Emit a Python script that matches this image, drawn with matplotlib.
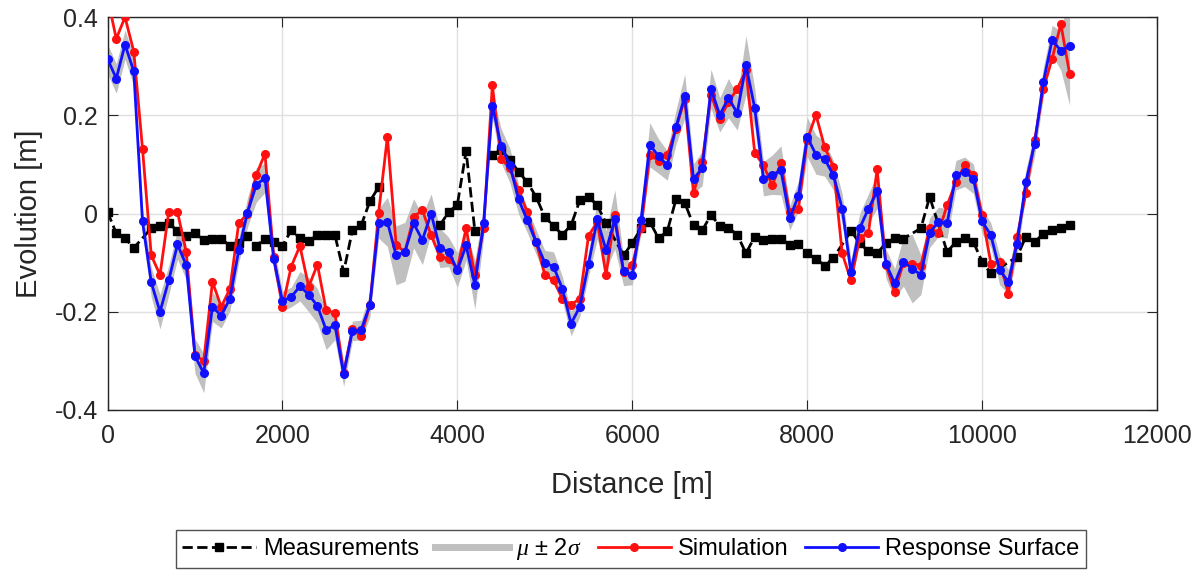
import matplotlib
matplotlib.use("Agg")
import matplotlib.pyplot as plt
from matplotlib.lines import Line2D
import numpy as np

plt.rcParams['font.family'] = ['Liberation Sans', 'DejaVu Sans']
plt.rcParams['mathtext.fontset'] = 'custom'
plt.rcParams['mathtext.it'] = 'Liberation Serif:italic'
plt.rcParams['mathtext.rm'] = 'Liberation Sans'

# distance of the simulation / response-surface points (every 100 m)
dist = np.arange(0, 11001, 100)

# response surface (blue)
rs = [0.315, 0.275, 0.344, 0.29, -0.016, -0.14, -0.20, -0.136, -0.063, -0.105,
      -0.29, -0.325, -0.19, -0.208, -0.173, -0.075, 0.002, 0.058, 0.073, -0.092,
      -0.178, -0.17, -0.148, -0.165, -0.188, -0.237, -0.227, -0.327, -0.239, -0.237,
      -0.186, -0.02, -0.017, -0.085, -0.078, -0.02, -0.054, 0.0, -0.07, -0.078,
      -0.115, -0.065, -0.145, -0.02, 0.22, 0.138, 0.098, 0.029, -0.014, -0.058,
      -0.1, -0.108, -0.153, -0.224, -0.19, -0.102, -0.012, -0.075, -0.012, -0.117,
      -0.125, -0.013, 0.14, 0.117, 0.098, 0.176, 0.239, 0.071, 0.092, 0.254,
      0.201, 0.235, 0.205, 0.302, 0.215, 0.071, 0.079, 0.088, -0.009, 0.036,
      0.156, 0.12, 0.111, 0.078, 0.01, -0.119, -0.03, 0.01, 0.045, -0.102,
      -0.142, -0.098, -0.112, -0.125, -0.039, -0.017, -0.02, 0.078, 0.085, 0.071,
      -0.016, -0.044, -0.115, -0.139, -0.061, 0.064, 0.142, 0.268, 0.353, 0.332,
      0.341]

# simulation (red)
sim = [0.44, 0.356, 0.40, 0.33, 0.132, -0.085, -0.125, 0.003, 0.003, -0.078,
       -0.288, -0.30, -0.139, -0.19, -0.153, -0.02, 0.0, 0.078, 0.122, -0.088,
       -0.19, -0.108, -0.066, -0.149, -0.104, -0.197, -0.203, -0.325, -0.235, -0.25,
       -0.186, 0.002, 0.156, -0.064, -0.078, -0.007, 0.007, -0.044, -0.088, -0.092,
       -0.112, -0.03, -0.125, -0.03, 0.261, 0.112, 0.092, 0.047, 0.003, -0.058,
       -0.125, -0.136, -0.173, -0.186, -0.173, -0.045, -0.017, -0.125, -0.003, -0.119,
       -0.105, -0.03, 0.119, 0.108, 0.119, 0.173, 0.234, 0.041, 0.106, 0.242,
       0.193, 0.227, 0.254, 0.292, 0.124, 0.098, 0.058, 0.102, 0.003, 0.01,
       0.15, 0.201, 0.135, 0.095, -0.081, -0.136, -0.05, -0.039, 0.09, -0.105,
       -0.159, -0.1, -0.102, -0.106, -0.03, -0.039, 0.017, 0.064, 0.098, 0.078,
       -0.003, -0.102, -0.098, -0.163, -0.047, 0.041, 0.149, 0.254, 0.315, 0.386,
       0.285]

# two sigma (half width of the grey band)
two_sigma = [0.03, 0.03, 0.03, 0.03, 0.025, 0.03, 0.035, 0.03, 0.03, 0.03,
             0.035, 0.04, 0.03, 0.025, 0.025, 0.025, 0.03, 0.035, 0.03, 0.025,
             0.02, 0.02, 0.03, 0.035, 0.035, 0.04, 0.03, 0.025, 0.02, 0.02,
             0.025, 0.03, 0.05, 0.06, 0.06, 0.05, 0.05, 0.04, 0.04, 0.03,
             0.035, 0.03, 0.05, 0.03, 0.025, 0.035, 0.035, 0.03, 0.025, 0.025,
             0.025, 0.03, 0.025, 0.025, 0.02, 0.025, 0.04, 0.04, 0.06, 0.03,
             0.02, 0.025, 0.045, 0.035, 0.03, 0.035, 0.045, 0.03, 0.035, 0.04,
             0.035, 0.04, 0.035, 0.06, 0.04, 0.035, 0.04, 0.05, 0.025, 0.03,
             0.04, 0.04, 0.035, 0.03, 0.03, 0.025, 0.03, 0.03, 0.035, 0.03,
             0.03, 0.05, 0.07, 0.04, 0.03, 0.03, 0.03, 0.03, 0.03, 0.03,
             0.025, 0.025, 0.03, 0.025, 0.025, 0.025, 0.025, 0.03, 0.03, 0.04,
             0.12]

# measurements (black); nan = no data between the neighbouring points
nan = float('nan')
meas_x = [0, 100, 200, 300, 500, 600, 700, 800, 900, 1000,
          1100, 1200, 1300, 1400, 1500, 1600, 1700, 1800, 1900, 2000,
          2100, 2200, 2300, 2400, 2500, 2600, 2700, 2800, 2900, 3000,
          3100, 3450, 3800, 3900, 4000, 4100, 4200, 4300, 4400, 4500, 4600, 4700,
          4800, 4900, 5000, 5100, 5200, 5300, 5400, 5500, 5600, 5700,
          5900, 6000, 6100, 6200, 6300, 6400, 6500, 6600, 6700, 6800,
          6900, 7000, 7100, 7200, 7300, 7400, 7500, 7600, 7700, 7800,
          7900, 8000, 8100, 8200, 8300, 8500, 8600, 8700, 8800, 8900,
          9000, 9100, 9300, 9400, 9600, 9700, 9800, 9900, 10000, 10100,
          10400, 10500, 10600, 10700, 10800, 10900, 11000]
meas_y = [0.003, -0.04, -0.05, -0.07, -0.03, -0.025, -0.02, -0.035, -0.045, -0.04,
          -0.054, -0.051, -0.051, -0.066, -0.06, -0.045, -0.066, -0.051, -0.058, -0.066,
          -0.034, -0.05, -0.056, -0.044, -0.044, -0.044, -0.119, -0.034, -0.024, 0.025,
          0.054, nan, -0.024, 0.003, 0.018, 0.127, -0.035, nan, 0.12, 0.13, 0.11, 0.085,
          0.064, 0.034, -0.007, -0.025, -0.043, -0.024, 0.027, 0.034, 0.017, -0.02,
          -0.085, -0.06, -0.03, -0.017, -0.05, -0.036, 0.029, 0.022, -0.024, -0.034,
          -0.003, -0.025, -0.029, -0.043, -0.081, -0.047, -0.054, -0.052, -0.051, -0.064,
          -0.061, -0.081, -0.092, -0.106, -0.09, -0.036, -0.06, -0.077, -0.081, -0.06,
          -0.05, -0.051, -0.03, 0.034, -0.078, -0.058, -0.05, -0.058, -0.098, -0.122,
          -0.088, -0.047, -0.058, -0.041, -0.034, -0.03, -0.024]

rs = np.array(rs)
two_sigma = np.array(two_sigma)

fig = plt.figure(figsize=(12.04, 5.71), dpi=100)
ax = fig.add_axes([0.0893, 0.282, 0.8717, 0.688])

ax.fill_between(dist, rs - two_sigma, rs + two_sigma, color='#c0c0c0', lw=0, zorder=1)
ax.plot(meas_x, meas_y, '--', color='black', lw=2, marker='s', ms=5.5, zorder=2)
ax.plot(dist, sim, '-', color='#ff1010', lw=2, marker='o', ms=5.5, zorder=3)
ax.plot(dist, rs, '-', color='#1010ff', lw=2, marker='o', ms=5.5, zorder=4)

ax.set_xlim(0, 12000)
ax.set_ylim(-0.4, 0.4)
ax.set_xticks(np.arange(0, 12001, 2000))
ax.set_yticks([-0.4, -0.2, 0, 0.2, 0.4])
ax.set_yticklabels(['-0.4', '-0.2', '0', '0.2', '0.4'])
ax.grid(True, color='#e0e0e0', lw=1)
ax.set_axisbelow(True)
ax.tick_params(direction='in', top=True, right=True, length=7, labelsize=18,
               color='#262626', labelcolor='#262626')
ax.tick_params(axis='x', pad=10)
ax.tick_params(axis='y', pad=7)
for s in ax.spines.values():
    s.set_color('#262626')
    s.set_linewidth(1)

ax.set_xlabel('Distance [m]', fontsize=21, color='#262626', labelpad=17)
ax.set_ylabel('Evolution [m]', fontsize=21, color='#262626', labelpad=8)

handles = [
    Line2D([], [], ls='--', color='black', lw=2, marker='s', ms=5.5),
    Line2D([], [], color='#c0c0c0', lw=5),
    Line2D([], [], color='#ff1010', lw=2, marker='o', ms=5.5),
    Line2D([], [], color='#1010ff', lw=2, marker='o', ms=5.5),
]
labels = ['Measurements', r'$\mu$ $\pm$ 2$\sigma$', 'Simulation', 'Response Surface']
leg = fig.legend(handles, labels, loc='upper center', ncol=4,
                 bbox_to_anchor=(631 / 1204, 1 - 530 / 571), borderaxespad=0,
                 fontsize=17, frameon=True, fancybox=False, edgecolor='#262626',
                 handlelength=3.1, handletextpad=0.3, columnspacing=0.7,
                 borderpad=0.25, numpoints=1)
leg.get_frame().set_linewidth(1)

fig.savefig('out.png', dpi=100)
